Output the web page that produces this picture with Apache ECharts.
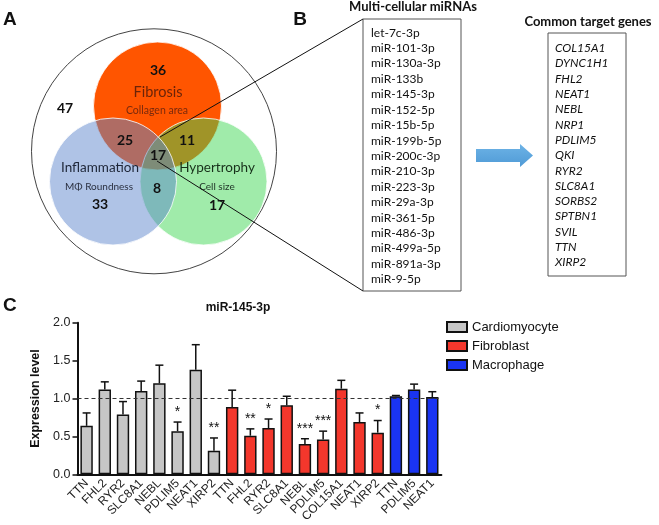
<!DOCTYPE html>
<html><head><meta charset="utf-8">
<script src="https://cdn.jsdelivr.net/npm/echarts@6/dist/echarts.min.js"></script>
<style>html,body{margin:0;padding:0;background:#fff}#c{width:659px;height:525px}</style>
</head><body><div id="c"></div>
<script>
// ---------- DATA ----------
// Panel A (Venn counts)
const vennSets = ['Fibrosis', 'Inflammation', 'Hypertrophy'];
const vennSubtitles = ['Collagen area', 'MΦ Roundness', 'Cell size'];
const vennOnly = [36, 33, 17];           // Fibrosis only, Inflammation only, Hypertrophy only
const vennPairs = [25, 11, 8];           // F∩I, F∩H, I∩H
const vennAll = 17;
const vennNone = 47;
// Panel B lists
const mirnaTitle = 'Multi-cellular miRNAs';
const mirnaList = ['let-7c-3p','miR-101-3p','miR-130a-3p','miR-133b','miR-145-3p','miR-152-5p','miR-15b-5p','miR-199b-5p','miR-200c-3p','miR-210-3p','miR-223-3p','miR-29a-3p','miR-361-5p','miR-486-3p','miR-499a-5p','miR-891a-3p','miR-9-5p'];
const targetTitle = 'Common target genes';
const targetGenes = ['COL15A1','DYNC1H1','FHL2','NEAT1','NEBL','NRP1','PDLIM5','QKI','RYR2','SLC8A1','SORBS2','SPTBN1','SVIL','TTN','XIRP2'];
// Panel C bar chart
const chartTitle = 'miR-145-3p';
const groups = ['Cardiomyocyte', 'Fibroblast', 'Macrophage'];
const cardioGenes = ['TTN','FHL2','RYR2','SLC8A1','NEBL','PDLIM5','NEAT1','XIRP2'];
const cardioMean  = [0.64, 1.12, 0.79, 1.10, 1.20, 0.57, 1.38, 0.31];
const cardioSem   = [0.17, 0.10, 0.17, 0.13, 0.24, 0.12, 0.33, 0.17];
const cardioSig   = ['', '', '', '', '', '*', '', '**'];
const fibroGenes  = ['TTN','FHL2','RYR2','SLC8A1','NEBL','PDLIM5','COL15A1','NEAT1','XIRP2'];
const fibroMean   = [0.89, 0.51, 0.61, 0.91, 0.40, 0.46, 1.13, 0.69, 0.55];
const fibroSem    = [0.22, 0.09, 0.12, 0.12, 0.07, 0.11, 0.11, 0.12, 0.16];
const fibroSig    = ['', '**', '*', '', '***', '***', '', '', '*'];
const macroGenes  = ['TTN','PDLIM5','NEAT1'];
const macroMean   = [1.03, 1.12, 1.02];
const macroSem    = [0.01, 0.07, 0.07];
const macroSig    = ['', '', ''];
const yTicks = [0, 0.5, 1.0, 1.5, 2.0];
const referenceLevel = 1.0;

// ---------- BUILD ----------
const groupGenes = [cardioGenes, fibroGenes, macroGenes];
const groupMean = [cardioMean, fibroMean, macroMean];
const groupSem = [cardioSem, fibroSem, macroSem];
const groupSig = [cardioSig, fibroSig, macroSig];
const groupColors = ['#C6C6C6', '#F3372C', '#1A34F2'];

const categories = [];
const allMean = [], allSem = [], allSig = [];
groupGenes.forEach((g, gi) => g.forEach((name, i) => {
  categories.push(name + '|' + gi + '|' + i);
  allMean.push(groupMean[gi][i]); allSem.push(groupSem[gi][i]); allSig.push(groupSig[gi][i]);
}));
const barSeries = groups.map((grp, gi) => {
  const data = categories.map((c, k) => (c.split('|')[1] == gi ? allMean[k] : '-'));
  return {
    name: grp, type: 'bar', data, barWidth: '68%', barGap: '-100%',
    itemStyle: { color: groupColors[gi], borderColor: '#111', borderWidth: 1.5 },
    z: 2
  };
});
barSeries[0].markLine = {
  silent: true, symbol: 'none', animation: false,
  data: [{ yAxis: referenceLevel }],
  lineStyle: { type: [4, 3], color: '#333', width: 1 },
  label: { show: false }
};
const errSeries = {
  type: 'custom', z: 5, silent: true,
  data: allMean.map((m, k) => [k, m, allSem[k]]),
  encode: { x: 0, y: 1 },
  renderItem: function (params, api) {
    const k = params.dataIndex;
    const x = api.value(0), m = api.value(1), s = api.value(2);
    const p0 = api.coord([x, m]);
    const p1 = api.coord([x, m + s]);
    const half = 4;
    const children = [
      { type: 'line', shape: { x1: p0[0], y1: p0[1], x2: p1[0], y2: p1[1] }, style: { stroke: '#111', lineWidth: 1.5 } },
      { type: 'line', shape: { x1: p1[0] - half, y1: p1[1], x2: p1[0] + half, y2: p1[1] }, style: { stroke: '#111', lineWidth: 1.5 } }
    ];
    if (allSig[k]) {
      children.push({ type: 'text', x: p1[0], y: p1[1] - 3,
        style: { text: allSig[k], fontSize: 14, fontFamily: 'Liberation Sans', fill: '#111', align: 'center', verticalAlign: 'bottom' } });
    }
    return { type: 'group', children };
  }
};

// ---------- GRAPHICS (panels A and B) ----------
const F = 'Lato';
function txt(x, y, text, size, opts) {
  opts = opts || {};
  return { type: 'text', x, y, z: opts.z || 10, style: Object.assign({
    text, fontSize: size, fontFamily: opts.family || F, fontWeight: opts.weight || 'normal',
    fontStyle: opts.style || 'normal', fill: opts.fill || '#111',
    align: opts.align || 'center', verticalAlign: 'middle' }) };
}
const fib = { cx: 157.5, cy: 106, r: 64 };
const inf = { cx: 113, cy: 181.5, r: 63.5 };
const hyp = { cx: 203.5, cy: 181.5, r: 63.5 };
const graphics = [
  txt(3, 20, 'A', 19, { weight: 'bold', family: 'Liberation Sans', align: 'left' }),
  txt(300, 20, 'B', 19, { weight: 'bold', family: 'Liberation Sans' }),
  txt(3, 306, 'C', 19, { weight: 'bold', family: 'Liberation Sans', align: 'left' }),
  { type: 'circle', z: 1, shape: { cx: 154, cy: 151.3, r: 122.5 }, style: { fill: 'none', stroke: '#444', lineWidth: 1 } },
  { type: 'circle', z: 2, shape: fib, style: { fill: '#FF5500', stroke: 'rgba(255,255,255,0.8)', lineWidth: 1 } },
  { type: 'circle', z: 3, shape: hyp, style: { fill: 'rgba(61,214,82,0.49)', stroke: 'rgba(255,255,255,0.8)', lineWidth: 1 } },
  { type: 'circle', z: 4, shape: inf, style: { fill: 'rgba(91,133,204,0.49)', stroke: 'rgba(255,255,255,0.8)', lineWidth: 1 } },
  txt(158, 70, String(vennOnly[0]), 14, { weight: 'bold' }),
  txt(158, 92, vennSets[0], 14.5, { fill: '#6B2408' }),
  txt(157, 111, vennSubtitles[0], 10.5, { fill: '#7A2A0C' }),
  txt(100, 168, vennSets[1], 13.5, { fill: '#1E2638' }),
  txt(99, 187, vennSubtitles[1], 10, { fill: '#2A3040' }),
  txt(100, 204, String(vennOnly[1]), 14, { weight: 'bold' }),
  txt(217, 168, vennSets[2], 13.5, { fill: '#17301A' }),
  txt(217, 187, vennSubtitles[2], 10, { fill: '#22382A' }),
  txt(217, 205, String(vennOnly[2]), 14, { weight: 'bold' }),
  txt(125, 140, String(vennPairs[0]), 14, { weight: 'bold' }),
  txt(187, 140, String(vennPairs[1]), 14, { weight: 'bold' }),
  txt(157, 188, String(vennPairs[2]), 14, { weight: 'bold' }),
  txt(158, 155, String(vennAll), 14, { weight: 'bold' }),
  txt(65, 108, String(vennNone), 14, { weight: 'bold' }),
  { type: 'line', z: 12, shape: { x1: 160, y1: 137, x2: 363, y2: 19 }, style: { stroke: '#111', lineWidth: 1 } },
  { type: 'line', z: 12, shape: { x1: 157, y1: 161, x2: 363, y2: 291 }, style: { stroke: '#111', lineWidth: 1 } },
  { type: 'rect', z: 5, shape: { x: 363, y: 19, width: 98, height: 272 }, style: { fill: '#fff', stroke: '#555', lineWidth: 1 } },
  { type: 'rect', z: 5, shape: { x: 548, y: 33, width: 78, height: 243 }, style: { fill: '#fff', stroke: '#555', lineWidth: 1 } },
  txt(413, 7, mirnaTitle, 13, { weight: 'bold' }),
  txt(588, 22, targetTitle, 13, { weight: 'bold' }),
  { type: 'polygon', z: 5, shape: { points: [[476,149],[520,149],[520,144],[533,155.5],[520,167],[520,162],[476,162]] },
    style: { fill: new echarts.graphic.LinearGradient(0, 0, 0, 1, [{ offset: 0, color: '#6DB3E6' }, { offset: 1, color: '#4F9AD6' }]) } }
];
mirnaList.forEach((m, i) => graphics.push(txt(371, 32.7 + i * 15.42, m, 12, { align: 'left' })));
targetGenes.forEach((g, i) => graphics.push(txt(555, 48.3 + i * 15.3, g, 12, { align: 'left', style: 'italic' })));

// ---------- CHART ----------
const chart = echarts.init(document.getElementById('c'), null, { renderer: 'canvas' });
chart.setOption({
  animation: false,
  backgroundColor: '#fff',
  title: { text: chartTitle, left: 233, top: 297, textAlign: 'center',
    textStyle: { fontSize: 12, fontWeight: 'bold', fontFamily: 'Liberation Sans', color: '#111' } },
  legend: {
    data: groups, orient: 'vertical', left: 441, top: 315, icon: 'rect',
    itemWidth: 20, itemHeight: 10, itemGap: 5,
    textStyle: { fontSize: 13, fontFamily: 'Liberation Sans', color: '#111', lineHeight: 14 }
  },
  grid: { left: 77.5, right: 217.6, top: 322.7, bottom: 49.3, containLabel: false },
  xAxis: {
    type: 'category', data: categories, boundaryGap: true,
    axisLine: { lineStyle: { color: '#111', width: 2 } },
    axisTick: { alignWithLabel: true, length: 5, interval: 0, lineStyle: { color: '#111', width: 1.5 } },
    axisLabel: { interval: 0, rotate: 45, fontSize: 12, fontFamily: 'Liberation Sans', color: '#222', margin: 7,
      formatter: v => v.split('|')[0] }
  },
  yAxis: {
    type: 'value', min: yTicks[0], max: yTicks[yTicks.length - 1], interval: 0.5,
    name: 'Expression level', nameLocation: 'middle', nameGap: 31, nameRotate: 90,
    nameTextStyle: { fontSize: 12.5, fontWeight: 'bold', fontFamily: 'Liberation Sans', color: '#111' },
    axisLine: { show: true, lineStyle: { color: '#111', width: 2 } },
    axisTick: { show: true, length: 5, lineStyle: { color: '#111', width: 1.5 } },
    axisLabel: { fontSize: 12.5, fontFamily: 'Liberation Sans', color: '#222', margin: 7, formatter: v => v.toFixed(1) },
    splitLine: { show: false }
  },
  series: barSeries.concat([errSeries]),
  graphic: graphics
});
</script>
</body></html>
